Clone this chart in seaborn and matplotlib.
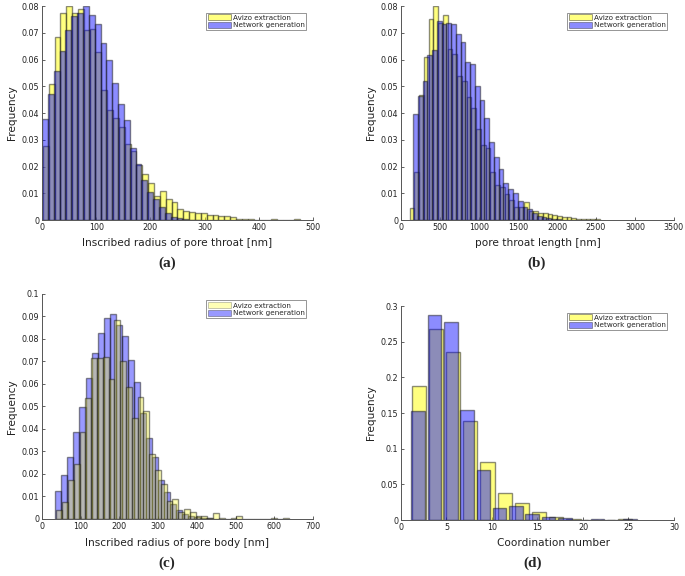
import numpy as np
import pandas as pd
import matplotlib
matplotlib.use("Agg")
import matplotlib.pyplot as plt
from matplotlib.patches import Patch
from matplotlib.ticker import FuncFormatter
import seaborn as sns

# (a) inscribed radius of pore throat [nm]
a_bin_width = 10.8
a_avizo_start = 1.5
a_avizo = [0.0277, 0.051, 0.0684, 0.0775, 0.0799, 0.0775, 0.0788, 0.0709, 0.0715, 0.0628,
           0.0488, 0.0411, 0.038, 0.0348, 0.0284, 0.0259, 0.0207, 0.0171, 0.0137, 0.009,
           0.0108, 0.0077, 0.0068, 0.004, 0.0034, 0.003, 0.0028, 0.0025, 0.002, 0.002,
           0.0015, 0.0015, 0.0012, 0.0004, 0.0004, 0.0002, 0.0001, 0.0001, 0.0001, 0.0003,
           0.0001, 0.0001, 0.0001, 0.0003]
a_net_start = 0.0
a_net = [0.0376, 0.047, 0.0556, 0.0632, 0.0709, 0.0761, 0.0775, 0.0799, 0.0765, 0.0732,
         0.066, 0.0597, 0.0513, 0.0432, 0.0373, 0.027, 0.0208, 0.0149, 0.0106, 0.0077,
         0.0047, 0.0025, 0.0012, 0.0006, 0.0002, 0.0001, 0.0001]

# (b) pore throat length [nm]
b_bin_width = 61.0
b_avizo_start = 110.0
b_avizo = [0.0045, 0.018, 0.0467, 0.061, 0.075, 0.080, 0.0737, 0.0765, 0.064, 0.0622,
           0.054, 0.052, 0.046, 0.042, 0.034, 0.028, 0.027, 0.018, 0.013, 0.0125,
           0.0097, 0.0075, 0.005, 0.005, 0.0068, 0.0035, 0.0033, 0.0028, 0.0025, 0.0022,
           0.002, 0.0015, 0.0012, 0.001, 0.0006, 0.0004, 0.0003, 0.0002, 0.0002, 0.0003]
b_net_start = 155.0
b_net = [0.0398, 0.0463, 0.052, 0.0616, 0.0637, 0.0744, 0.0734, 0.0737, 0.0732, 0.0697,
         0.0666, 0.059, 0.0585, 0.050, 0.045, 0.038, 0.029, 0.0236, 0.019, 0.0137,
         0.0115, 0.010, 0.0071, 0.005, 0.004, 0.0025, 0.0015, 0.001, 0.0006, 0.0003, 0.0002]

# (c) inscribed radius of pore body [nm]
c_avizo_width = 15.0
c_avizo_start = 37.0
c_avizo = [0.0042, 0.0077, 0.0172, 0.0246, 0.0387, 0.0536, 0.0714, 0.0714, 0.0721, 0.062,
           0.0884, 0.0702, 0.0588, 0.0447, 0.0543, 0.048, 0.0291, 0.0217, 0.0157, 0.008,
           0.009, 0.0031, 0.0046, 0.0032, 0.0015, 0.0015, 0.0003, 0.0025, 0.0003, 0.0002,
           0.0003, 0.0012, 0.0001, 0.0001, 0.0001, 0.0001, 0.0001, 0.0004, 0.0001, 0.0005]
c_net_width = 15.6
c_net_start = 34.4
c_net = [0.0125, 0.0194, 0.0276, 0.0387, 0.0499, 0.0628, 0.0736, 0.0828, 0.0892, 0.091,
         0.0862, 0.0815, 0.0706, 0.061, 0.0469, 0.036, 0.0276, 0.0172, 0.012, 0.0068,
         0.0042, 0.0024, 0.0015, 0.001, 0.0006, 0.0003]

# (d) coordination number
d_avizo_width = 1.89
d_avizo_start = 1.0
d_avizo = [0.188, 0.268, 0.235, 0.139, 0.082, 0.038, 0.0233, 0.0117, 0.0047, 0.0015,
           0.0007, 0.0003, 0.0008]
d_net_width = 1.79
d_net_start = 1.0
d_net = [0.153, 0.287, 0.278, 0.154, 0.070, 0.0168, 0.0196, 0.0084, 0.0037, 0.0023,
         0.0005, 0.0008, 0.0, 0.0009]

labels = ["Avizo extraction", "Network generation"]
yellow = "#ffff00"
blue = "#0000ff"
edge = (0.1, 0.1, 0.1, 0.5)

sns.set_theme(style="ticks")
plt.rcParams["font.family"] = ["DejaVu Sans"]
plt.rcParams["xtick.direction"] = "in"
plt.rcParams["ytick.direction"] = "in"


def draw_hist(ax, start, width, heights, color, alpha, shrink=1.0, z=1):
    edges = start + width * np.arange(len(heights) + 1)
    df = pd.DataFrame({"x": edges[:-1] + width / 2, "freq": heights})
    sns.histplot(data=df, x="x", weights="freq", bins=list(edges), ax=ax, color=color,
                 alpha=alpha, edgecolor=edge, linewidth=1.0, shrink=shrink,
                 zorder=z)


def style_axes(ax, xlim, xticks, ylim, yticks, xlabel, ya, yb, xlab_x=0.5):
    ax.set_xlim(*xlim)
    ax.set_ylim(*ylim)
    ax.set_xticks(xticks)
    ax.set_yticks(yticks)
    ax.yaxis.set_major_formatter(FuncFormatter(lambda v, p: f"{v:g}"))
    ax.tick_params(labelsize=5.8, length=2.5, width=0.5, colors="#222222", pad=2)
    for s in ["top", "right"]:
        ax.spines[s].set_visible(False)
    for s in ["left", "bottom"]:
        ax.spines[s].set_color("#555555")
        ax.spines[s].set_linewidth(0.7)
    ax.set_xlabel(xlabel, fontsize=7.6, color="#222222", labelpad=2)
    ax.set_ylabel("Frequency", fontsize=7.6, color="#222222", labelpad=3)
    ax.xaxis.set_label_coords(xlab_x, -0.085)
    handles = [Patch(facecolor=yellow, alpha=ya, edgecolor="#1a1a1a", linewidth=0.6),
               Patch(facecolor=blue, alpha=yb, edgecolor="#1a1a1a", linewidth=0.6)]
    leg = ax.legend(handles, labels, loc="upper right", fontsize=5.2, frameon=True,
                    fancybox=False, borderpad=0.25, handlelength=3.2, handleheight=0.9,
                    handletextpad=0.2, labelspacing=0.1, borderaxespad=0.9)
    leg.get_frame().set_edgecolor("#666666")
    leg.get_frame().set_linewidth(0.6)


fig = plt.figure(figsize=(6.85, 5.76), dpi=100)
ax_a = fig.add_axes([0.0613, 0.618, 0.3956, 0.3715])
ax_b = fig.add_axes([0.5854, 0.618, 0.3985, 0.3715])
ax_c = fig.add_axes([0.0613, 0.099, 0.3956, 0.3906])
ax_d = fig.add_axes([0.5854, 0.0972, 0.3985, 0.3715])

# (a)
draw_hist(ax_a, a_avizo_start, a_bin_width, a_avizo, yellow, 0.5, z=1)
draw_hist(ax_a, a_net_start, a_bin_width, a_net, blue, 0.45, z=2)
style_axes(ax_a, (0, 500), np.arange(0, 501, 100), (0, 0.08), np.arange(0, 0.081, 0.01),
           "Inscribed radius of pore throat [nm]", 0.5, 0.45)

# (b)
draw_hist(ax_b, b_avizo_start, b_bin_width, b_avizo, yellow, 0.5, z=1)
draw_hist(ax_b, b_net_start, b_bin_width, b_net, blue, 0.45, z=2)
style_axes(ax_b, (0, 3500), np.arange(0, 3501, 500), (0, 0.08), np.arange(0, 0.081, 0.01),
           "pore throat length [nm]", 0.5, 0.45)

# (c) - network drawn underneath here
draw_hist(ax_c, c_net_start, c_net_width, c_net, blue, 0.4, z=1)
draw_hist(ax_c, c_avizo_start, c_avizo_width, c_avizo, yellow, 0.29, z=2)
style_axes(ax_c, (0, 700), np.arange(0, 701, 100), (0, 0.1), np.arange(0, 0.101, 0.01),
           "Inscribed radius of pore body [nm]", 0.29, 0.4)

# (d)
draw_hist(ax_d, d_avizo_start, d_avizo_width, d_avizo, yellow, 0.5, shrink=0.83, z=1)
draw_hist(ax_d, d_net_start, d_net_width, d_net, blue, 0.45, shrink=0.83, z=2)
style_axes(ax_d, (0, 30), np.arange(0, 31, 5), (0, 0.3), np.arange(0, 0.301, 0.05),
           "Coordination number", 0.5, 0.45, xlab_x=0.56)

for x, y, t in [(0.2438, 0.5434, "(a)"), (0.784, 0.5434, "(b)"),
                (0.2438, 0.0226, "(c)"), (0.777, 0.0226, "(d)")]:
    fig.text(x, y, t, ha="center", va="center", fontsize=11, fontweight="bold",
             family=["Liberation Serif", "DejaVu Serif"])

fig.savefig("out.png", dpi=100)
